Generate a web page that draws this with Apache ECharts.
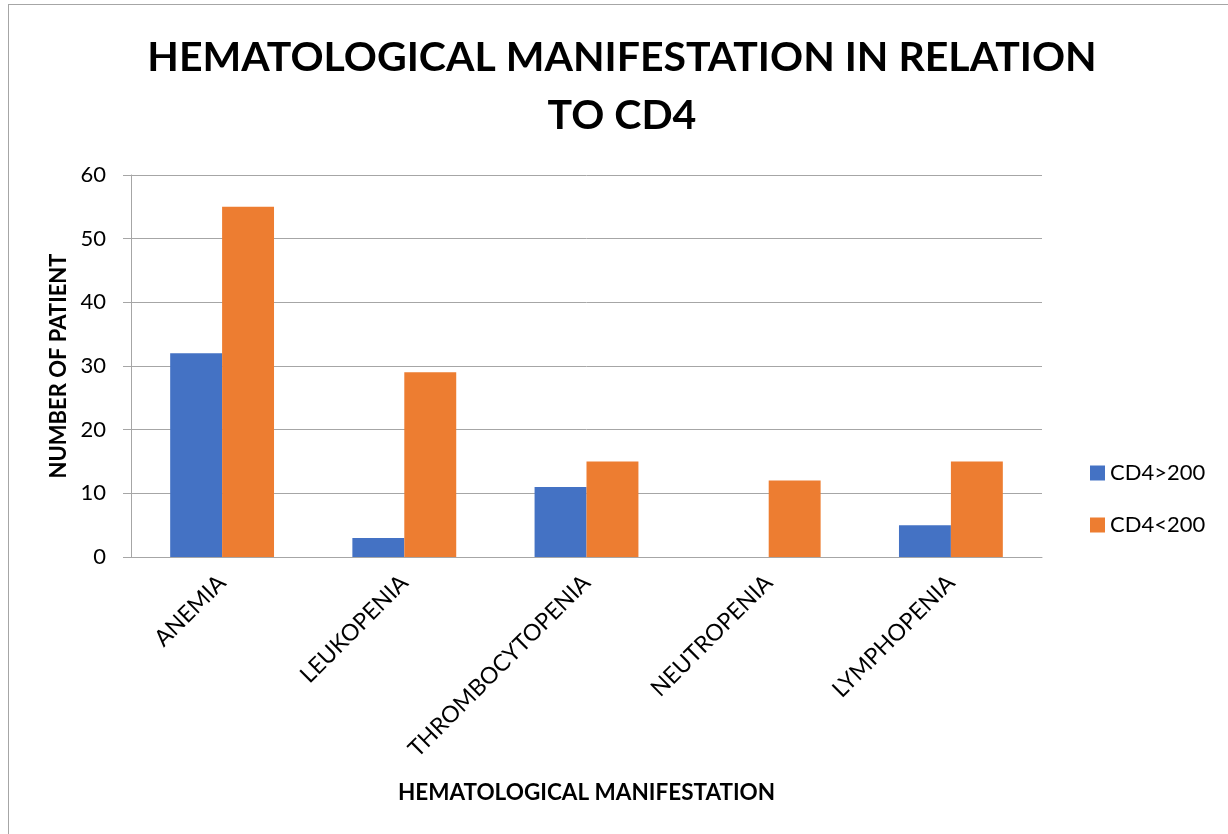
<!DOCTYPE html>
<html><head><meta charset="utf-8">
<script src="https://cdn.jsdelivr.net/npm/echarts@6/dist/echarts.min.js"></script>
<style>
html,body{margin:0;padding:0;background:#fff;}
#frame{position:absolute;left:8px;top:4px;width:1240px;height:850px;border:1px solid #a6a6a6;box-sizing:border-box;}
#c{position:absolute;left:0;top:0;width:1228px;height:834px;}
</style></head>
<body>
<div id="frame"></div>
<div id="c"></div>
<script>
const categories = ["ANEMIA", "LEUKOPENIA", "THROMBOCYTOPENIA", "NEUTROPENIA", "LYMPHOPENIA"];
const cd4Above200 = [32, 3, 11, 0, 5];
const cd4Below200 = [55, 29, 15, 12, 15];
const seriesNames = ["CD4>200", "CD4<200"];
const yTicks = {min: 0, max: 60, interval: 10};

const font = "Lato";
const chart = echarts.init(document.getElementById('c'), null, {renderer: 'canvas'});
chart.setOption({
  backgroundColor: 'transparent',
  animation: false,
  title: {
    text: "HEMATOLOGICAL MANIFESTATION IN RELATION\nTO CD4",
    left: 617, top: 24, textAlign: 'center',
    textStyle: {fontFamily: font, fontWeight: 'bold', fontSize: 41, lineHeight: 58, color: '#000'}
  },
  legend: {
    orient: 'vertical', left: 1085, top: 457,
    itemWidth: 15, itemHeight: 15, itemGap: 30,
    icon: 'rect',
    textStyle: {fontFamily: font, fontSize: 22, color: '#000'},
    data: seriesNames
  },
  grid: {left: 131, right: 186, top: 175, bottom: 277, containLabel: false},
  xAxis: {
    type: 'category', data: categories,
    name: "HEMATOLOGICAL MANIFESTATION", nameLocation: 'middle', nameGap: 224,
    nameTextStyle: {fontFamily: font, fontWeight: 'bold', fontSize: 22.5, color: '#000'},
    axisLine: {lineStyle: {color: '#a6a6a6', width: 1}},
    axisTick: {show: false},
    axisLabel: {rotate: 45, interval: 0, fontFamily: font, fontSize: 23, color: '#000', margin: 22}
  },
  yAxis: {
    type: 'value', min: yTicks.min, max: yTicks.max, interval: yTicks.interval,
    name: "NUMBER OF PATIENT", nameLocation: 'middle', nameGap: 60,
    nameTextStyle: {fontFamily: font, fontWeight: 'bold', fontSize: 22, color: '#000'},
    axisLine: {show: true, lineStyle: {color: '#a6a6a6', width: 1}},
    axisTick: {show: true, length: 8, lineStyle: {color: '#a6a6a6'}},
    axisLabel: {fontFamily: font, fontSize: 22, color: '#000', margin: 25},
    splitLine: {lineStyle: {color: '#a6a6a6', width: 1}}
  },
  series: [
    {name: seriesNames[0], type: 'bar', data: cd4Above200, barGap: '0%', barCategoryGap: '43%', itemStyle: {color: '#4472c4'}},
    {name: seriesNames[1], type: 'bar', data: cd4Below200, barGap: '0%', barCategoryGap: '43%', itemStyle: {color: '#ed7d31'}}
  ]
});
</script>
</body></html>
